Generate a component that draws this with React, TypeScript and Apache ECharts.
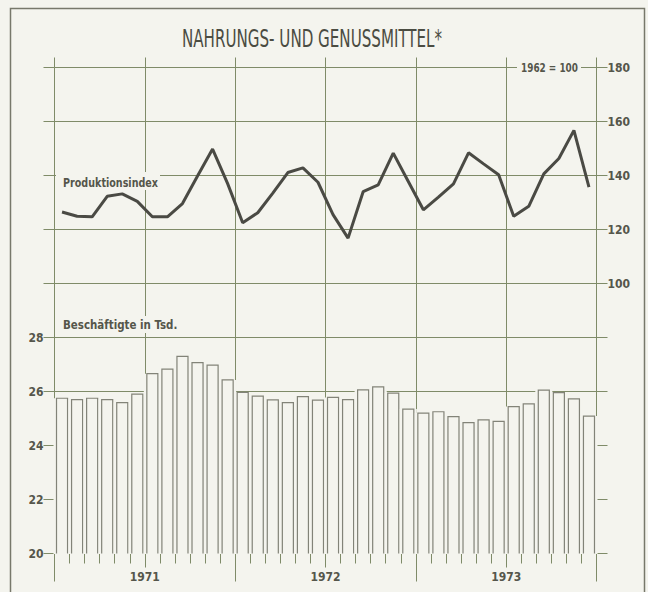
import React, { useEffect, useRef } from "react";
import * as echarts from "echarts";

// ---- data ----
const years = ["1971", "1972", "1973"];
const monthNames = ["Jan", "Feb", "Mär", "Apr", "Mai", "Jun", "Jul", "Aug", "Sep", "Okt", "Nov", "Dez"];
const months = years.flatMap((y) => monthNames.map((m) => `${m} ${y}`));
const halfYears = ["1971 I", "1971 II", "1972 I", "1972 II", "1973 I", "1973 II"];

// Beschäftigte in Tsd.
const employment = [
  25.75, 25.7, 25.75, 25.7, 25.59, 25.9, 26.66, 26.83, 27.3, 27.07, 26.98, 26.43,
  25.97, 25.83, 25.69, 25.59, 25.81, 25.68, 25.78, 25.7, 26.06, 26.17, 25.94, 25.35,
  25.2, 25.25, 25.07, 24.85, 24.95, 24.89, 25.44, 25.54, 26.05, 25.96, 25.73, 25.09,
];

// Produktionsindex (1962 = 100)
const production = [
  126.5, 124.9, 124.7, 132.3, 133.2, 130.4, 124.7, 124.7, 129.6, 139.8, 149.8, 137.0,
  122.5, 126.2, 133.5, 141.1, 142.8, 137.5, 125.5, 116.8, 134.0, 136.5, 148.3, 137.8,
  127.3, 132.0, 136.9, 148.4, 144.3, 140.3, 124.9, 128.6, 140.6, 146.3, 156.7, 135.7,
];

const leftTicks = [20, 22, 24, 26, 28];
const rightTicks = [100, 120, 140, 160, 180];

// ---- styles ----
const bg = "#f4f4ee";
const gridColor = "#7f8b68";
const barStroke = "#828378";
const lineColor = "#4a4a44";
const textColor = "#55564b";
const font = "'DejaVu Sans Condensed', 'DejaVu Sans', sans-serif";

export default function App() {
  const ref = useRef<HTMLDivElement>(null);

  useEffect(() => {
    if (!ref.current) return;
    const chart = echarts.init(ref.current, null, { renderer: "svg" });

    const labelStyle = {
      color: textColor,
      fontFamily: font,
      fontWeight: "bold" as const,
      fontSize: 12,
    };

    const option: any = {
      animation: false,
      backgroundColor: bg,
      grid: { left: 54.5, right: 51.5, top: 67.5, bottom: 38.5, containLabel: false },
      xAxis: [
        {
          type: "category",
          data: months,
          gridIndex: 0,
          position: "bottom",
          boundaryGap: true,
          axisLine: { show: false, onZero: false },
          axisTick: { show: true, interval: 0, length: 10, lineStyle: { color: gridColor } },
          axisLabel: { show: false },
          splitLine: { show: false },
        },
        {
          type: "category",
          data: halfYears,
          gridIndex: 0,
          position: "bottom",
          boundaryGap: true,
          axisLine: { show: false, onZero: false },
          axisTick: { show: true, interval: 0, length: 14, lineStyle: { color: gridColor } },
          axisLabel: { show: false },
          splitLine: { show: true, interval: 0, lineStyle: { color: gridColor, width: 1 } },
        },
        {
          type: "category",
          data: years,
          gridIndex: 0,
          position: "bottom",
          boundaryGap: true,
          axisLine: { show: false, onZero: false },
          axisTick: { show: true, interval: 0, length: 28, lineStyle: { color: gridColor } },
          axisLabel: { show: true, interval: 0, margin: 17, ...labelStyle },
          splitLine: { show: false },
        },
        {
          type: "category",
          data: halfYears,
          gridIndex: 0,
          position: "top",
          boundaryGap: true,
          axisLine: { show: false, onZero: false },
          axisTick: { show: true, interval: 0, length: 10, lineStyle: { color: gridColor } },
          axisLabel: { show: false },
          splitLine: { show: false },
        },
      ],
      yAxis: [
        {
          type: "value",
          min: 20,
          max: 38,
          interval: 2,
          position: "left",
          axisLine: { show: false },
          axisTick: { show: true, length: 11, lineStyle: { color: gridColor } },
          axisLabel: {
            margin: 11,
            formatter: (v: number) => (leftTicks.includes(v) ? String(v) : ""),
            ...labelStyle,
          },
          splitLine: { show: false },
        },
        {
          type: "value",
          min: 0,
          max: 180,
          interval: 20,
          position: "right",
          axisLine: { show: true, lineStyle: { color: gridColor } },
          axisTick: { show: true, length: 11, lineStyle: { color: gridColor } },
          axisLabel: {
            margin: 11,
            formatter: (v: number) => (rightTicks.includes(v) ? String(v) : ""),
            ...labelStyle,
          },
          splitLine: { show: true, lineStyle: { color: gridColor, width: 1 } },
        },
      ],
      series: [
        {
          type: "custom",
          name: "Beschäftigte",
          xAxisIndex: 0,
          yAxisIndex: 0,
          encode: { x: 0, y: 1 },
          data: employment.map((v, i) => [i, v]),
          z: 2,
          renderItem: (params: any, api: any) => {
            const top = api.coord([api.value(0), api.value(1)]);
            const base = api.coord([api.value(0), 20]);
            const bw = api.size([1, 0])[0];
            const half = (bw * 11) / 15 / 2;
            const cx = top[0];
            return {
              type: "group",
              children: [
                {
                  type: "rect",
                  shape: { x: cx - bw / 2 - 1, y: top[1], width: bw + 2, height: base[1] - top[1] + 0.5 },
                  style: { fill: bg },
                },
                {
                  type: "polyline",
                  shape: {
                    points: [
                      [cx - half, base[1]],
                      [cx - half, top[1]],
                      [cx + half, top[1]],
                      [cx + half, base[1]],
                    ],
                  },
                  style: { fill: "none", stroke: barStroke, lineWidth: 1.2 },
                },
              ],
            };
          },
        },
        {
          type: "line",
          name: "Produktionsindex",
          xAxisIndex: 0,
          yAxisIndex: 1,
          data: production,
          symbol: "none",
          z: 4,
          lineStyle: { color: lineColor, width: 3 },
        },
      ],
      graphic: [
        {
          type: "rect",
          z: 10,
          shape: { x: 10.5, y: 8.5, width: 634, height: 620 },
          style: { fill: "none", stroke: "#77786b", lineWidth: 1.5 },
        },
        {
          type: "text",
          z: 10,
          x: 312,
          y: 39,
          scaleX: 0.7,
          style: {
            text: "NAHRUNGS- UND GENUSSMITTEL*",
            fill: "#4b4c42",
            font: `normal 24px ${font}`,
            align: "center",
            verticalAlign: "middle",
          },
        },
        {
          type: "rect",
          z: 10,
          shape: { x: 56, y: 172, width: 104, height: 18 },
          style: { fill: bg },
        },
        {
          type: "text",
          z: 11,
          x: 63,
          y: 182.5,
          scaleX: 0.82,
          style: {
            text: "Produktionsindex",
            fill: textColor,
            font: `bold 13px ${font}`,
            align: "left",
            verticalAlign: "middle",
          },
        },
        {
          type: "rect",
          z: 10,
          shape: { x: 56, y: 316, width: 126, height: 17 },
          style: { fill: bg },
        },
        {
          type: "text",
          z: 11,
          x: 63,
          y: 324.5,
          scaleX: 0.88,
          style: {
            text: "Beschäftigte in Tsd.",
            fill: textColor,
            font: `bold 13px ${font}`,
            align: "left",
            verticalAlign: "middle",
          },
        },
        {
          type: "rect",
          z: 10,
          shape: { x: 517, y: 60, width: 64, height: 15 },
          style: { fill: bg },
        },
        {
          type: "text",
          z: 11,
          x: 549.5,
          y: 67.5,
          scaleX: 0.76,
          style: {
            text: "1962 = 100",
            fill: textColor,
            font: `bold 13px ${font}`,
            align: "center",
            verticalAlign: "middle",
          },
        },
      ],
    };

    chart.setOption(option);
    return () => chart.dispose();
  }, []);

  return (
    <div
      ref={ref}
      style={{ position: "absolute", left: 0, top: 0, width: 648, height: 592, background: bg }}
    />
  );
}
